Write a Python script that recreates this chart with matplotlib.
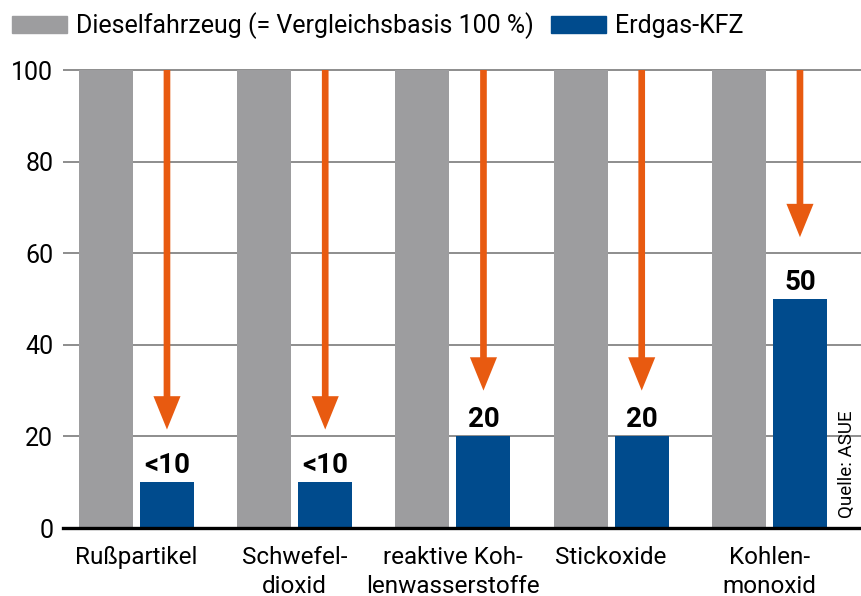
import matplotlib
matplotlib.use("Agg")
import matplotlib.pyplot as plt
from matplotlib.patches import Patch

plt.rcParams['font.family'] = ['Roboto', 'DejaVu Sans']

# data
categories = ["Rußpartikel", "Schwefel-\ndioxid", "reaktive Koh-\nlenwasserstoffe",
              "Stickoxide", "Kohlen-\nmonoxid"]
diesel = [100, 100, 100, 100, 100]
erdgas = [10, 10, 20, 20, 50]
value_labels = ["<10", "<10", "20", "20", "50"]
arrow_tips = [21.5, 21.5, 30, 30, 63.5]

grey = "#9d9d9f"
blue = "#004b8d"
orange = "#e85a10"

W, H = 862, 596
fig = plt.figure(figsize=(W / 100, H / 100), dpi=100)
# y=0 at px 528, y=100 at px 70
ppu = (528 - 70) / 100.0
top_val = 102
ax = fig.add_axes([63 / W, 1 - 528 / H, (862 - 63) / W, top_val * ppu / H])

x = list(range(len(categories)))
bw = 0.341
off = 0.193
ax.bar([i - off for i in x], diesel, width=bw, color=grey, zorder=3)
ax.bar([i + off for i in x], erdgas, width=bw, color=blue, zorder=3)

for i in x:
    ax.text(i + off, erdgas[i] + 2, value_labels[i], ha="center", va="baseline",
            fontsize=20, fontweight="bold", color="black", zorder=5)
    ax.annotate("", xy=(i + off, arrow_tips[i]), xytext=(i + off, 100),
                arrowprops=dict(arrowstyle="simple,head_length=24,head_width=19.5,tail_width=4.8",
                                mutation_scale=1, fc=orange, ec="none", lw=0,
                                shrinkA=0, shrinkB=0), zorder=4)

ax.set_xlim(-0.464, 4.585)
ax.set_ylim(0, top_val)
ax.set_yticks([0, 20, 40, 60, 80, 100])
ax.set_xticks(x)
ax.set_xticklabels(categories, fontsize=17.5, linespacing=1.35)
ax.tick_params(axis="x", length=0, pad=13)
ax.tick_params(axis="y", length=0, pad=7, labelsize=18)
ax.yaxis.grid(True, color="#7a7a7a", lw=1.2, zorder=1)
ax.set_axisbelow(True)
for s in ["top", "right", "left"]:
    ax.spines[s].set_visible(False)
ax.spines["bottom"].set_linewidth(2.4)
ax.spines["bottom"].set_color("black")
ax.spines["bottom"].set_zorder(6)

handles = [Patch(color=grey), Patch(color=blue)]
fig.legend(handles, ["Dieselfahrzeug (= Vergleichsbasis 100 %)", "Erdgas-KFZ"],
           loc="center left", bbox_to_anchor=(12 / W, 1 - 26 / H), ncol=2,
           frameon=False, fontsize=18, handlelength=2.2, handleheight=0.7,
           handletextpad=0.35, columnspacing=0.7, borderpad=0, borderaxespad=0)

fig.text(847 / W, 1 - 464 / H, "Quelle: ASUE", rotation=90, ha="center",
         va="center", fontsize=13.5)

fig.savefig("out.png", dpi=100)
